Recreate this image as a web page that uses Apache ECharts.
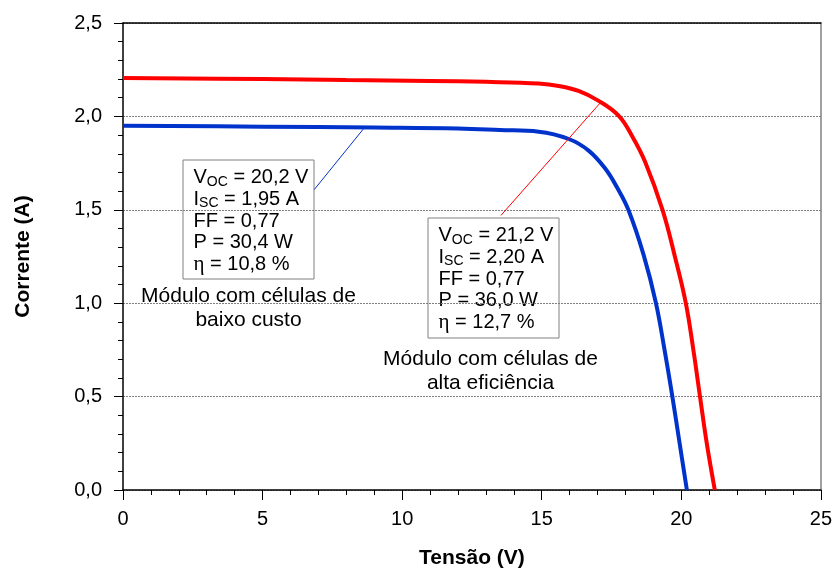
<!DOCTYPE html>
<html>
<head>
<meta charset="utf-8">
<script src="https://cdn.jsdelivr.net/npm/echarts@6/dist/echarts.min.js"></script>
<style>
  html, body { margin: 0; padding: 0; background: #fff; }
  #chart { width: 835px; height: 574px; }
</style>
</head>
<body>
<div id="chart"></div>
<script>
// I-V curves of two PV modules: [voltage (V), current (A)]
const altaEficiencia = [
  [0, 2.205], [5, 2.20], [8, 2.195], [11, 2.19], [13, 2.185], [14.89, 2.176],
  [15.61, 2.163], [16.32, 2.136], [17.04, 2.083], [17.76, 2.003], [18.23, 1.897],
  [18.71, 1.755], [19.33, 1.498], [19.77, 1.25], [20.16, 1.002],
  [20.43, 0.752], [20.67, 0.50], [20.91, 0.252], [21.2, 0]
];
const baixoCusto = [
  [0, 1.95], [5, 1.945], [9, 1.94], [12, 1.935], [13.5, 1.927], [14.89, 1.918],
  [15.97, 1.879], [16.68, 1.817], [17.28, 1.72], [17.69, 1.622], [18.11, 1.498],
  [18.65, 1.259], [19.09, 1.002], [19.40, 0.75], [19.68, 0.50], [19.94, 0.25], [20.2, 0]
];

// Leader lines from the parameter boxes to each curve (data coordinates)
const leaderBaixo = [[6.85, 1.608], [8.64, 1.938]];
const leaderAlta = [[13.54, 1.47], [17.14, 2.08]];

// Axis ranges
const xMin = 0, xMax = 25, xStep = 5;
const yMin = 0, yMax = 2.5, yStep = 0.5;

// Text blocks
const boxBaixo = ['{t|V}{s|OC}{t| = 20,2 V}', '{t|I}{s|SC}{t| = 1,95 A}', '{t|FF = 0,77}', '{t|P = 30,4 W}', '{e|η}{t| = 10,8 %}'];
const boxAlta = ['{t|V}{s|OC}{t| = 21,2 V}', '{t|I}{s|SC}{t| = 2,20 A}', '{t|FF = 0,77}', '{t|P = 36,0 W}', '{e|η}{t| = 12,7 %}'];
const labelBaixo = 'Módulo com células de\nbaixo custo';
const labelAlta = 'Módulo com células de\nalta eficiência';

const FONT = '"Liberation Sans", Arial, sans-serif';
const fmtComma = v => v.toFixed(1).replace('.', ',');

const richBox = {
  t: { fontFamily: FONT, fontSize: 20, lineHeight: 21.7, color: '#000' },
  s: { fontFamily: FONT, fontSize: 14, lineHeight: 12, verticalAlign: 'bottom', color: '#000' },
  e: { fontFamily: '"Liberation Serif", serif', fontSize: 21, lineHeight: 21.7, color: '#000' }
};

function paramBox(x, y, w, h, lines) {
  return {
    type: 'group', left: x, top: y, z: 100,
    children: [
      { type: 'rect', shape: { x: 0, y: 0, width: w, height: h },
        style: { fill: '#fff', stroke: '#808080', lineWidth: 1 } },
      { type: 'text', x: 10.5, y: 7,
        style: { text: lines.join('\n'), rich: richBox, fontFamily: FONT, fontSize: 20 } }
    ]
  };
}

const chart = echarts.init(document.getElementById('chart'), null, { renderer: 'canvas' });

const tickStyle = { color: '#000', width: 1 };

chart.setOption({
  animation: false,
  backgroundColor: '#fff',
  grid: { left: 123, right: 12, top: 23, bottom: 81, show: false },
  xAxis: [
    {
      type: 'value', min: xMin, max: xMax, interval: xStep, position: 'bottom',
      name: 'Tensão (V)', nameLocation: 'middle', nameGap: 58,
      nameTextStyle: { fontFamily: FONT, fontSize: 21, fontWeight: 'bold', color: '#000' },
      axisLine: { show: true, onZero: false, lineStyle: { color: '#000', width: 1.5 } },
      axisTick: { show: true, inside: false, length: 10, lineStyle: tickStyle },
      minorTick: { show: true, splitNumber: 5, length: 5, lineStyle: tickStyle },
      axisLabel: { margin: 19, fontFamily: FONT, fontSize: 20, color: '#000' },
      splitLine: { show: false }
    },
    {
      type: 'value', min: xMin, max: xMax, position: 'top',
      axisLine: { show: true, onZero: false, lineStyle: { color: '#000', width: 1.5 } },
      axisTick: { show: false }, axisLabel: { show: false }, splitLine: { show: false }
    }
  ],
  yAxis: [
    {
      type: 'value', min: yMin, max: yMax, interval: yStep, position: 'left',
      name: 'Corrente (A)', nameLocation: 'middle', nameGap: 89,
      nameTextStyle: { fontFamily: FONT, fontSize: 21, fontWeight: 'bold', color: '#000' },
      axisLine: { show: true, onZero: false, lineStyle: { color: '#000', width: 1.5 } },
      axisTick: { show: true, inside: false, length: 9, lineStyle: tickStyle },
      minorTick: { show: true, splitNumber: 5, length: 5, lineStyle: tickStyle },
      axisLabel: { margin: 21, fontFamily: FONT, fontSize: 20, color: '#000', formatter: fmtComma },
      splitLine: { show: true, lineStyle: { color: '#808080', width: 1, type: [2, 1] } }
    },
    {
      type: 'value', min: yMin, max: yMax, position: 'right',
      axisLine: { show: true, onZero: false, lineStyle: { color: '#808080', width: 1.5 } },
      axisTick: { show: false }, axisLabel: { show: false }, splitLine: { show: false }
    }
  ],
  series: [
    {
      name: 'baixo custo', type: 'line', data: baixoCusto, showSymbol: false,
      smooth: 0.4,
      lineStyle: { color: '#0033CC', width: 4 }, z: 3
    },
    {
      name: 'alta eficiência', type: 'line', data: altaEficiencia, showSymbol: false,
      smooth: 0.4,
      lineStyle: { color: '#FF0000', width: 4 }, z: 3
    },
    {
      type: 'line', data: leaderBaixo, showSymbol: false, silent: true,
      lineStyle: { color: '#0033CC', width: 1 }, z: 4
    },
    {
      type: 'line', data: leaderAlta, showSymbol: false, silent: true,
      lineStyle: { color: '#FF0000', width: 1 }, z: 4
    }
  ],
  graphic: [
    paramBox(182.5, 159.5, 131, 119, boxBaixo),
    paramBox(427.5, 217.5, 131, 120, boxAlta),
    {
      type: 'text', x: 248.5, y: 284, z: 100,
      style: { text: labelBaixo, fontFamily: FONT, fontSize: 21, lineHeight: 24, align: 'center', fill: '#000' }
    },
    {
      type: 'text', x: 490.5, y: 347.5, z: 100,
      style: { text: labelAlta, fontFamily: FONT, fontSize: 21, lineHeight: 24, align: 'center', fill: '#000' }
    }
  ]
});
</script>
</body>
</html>
